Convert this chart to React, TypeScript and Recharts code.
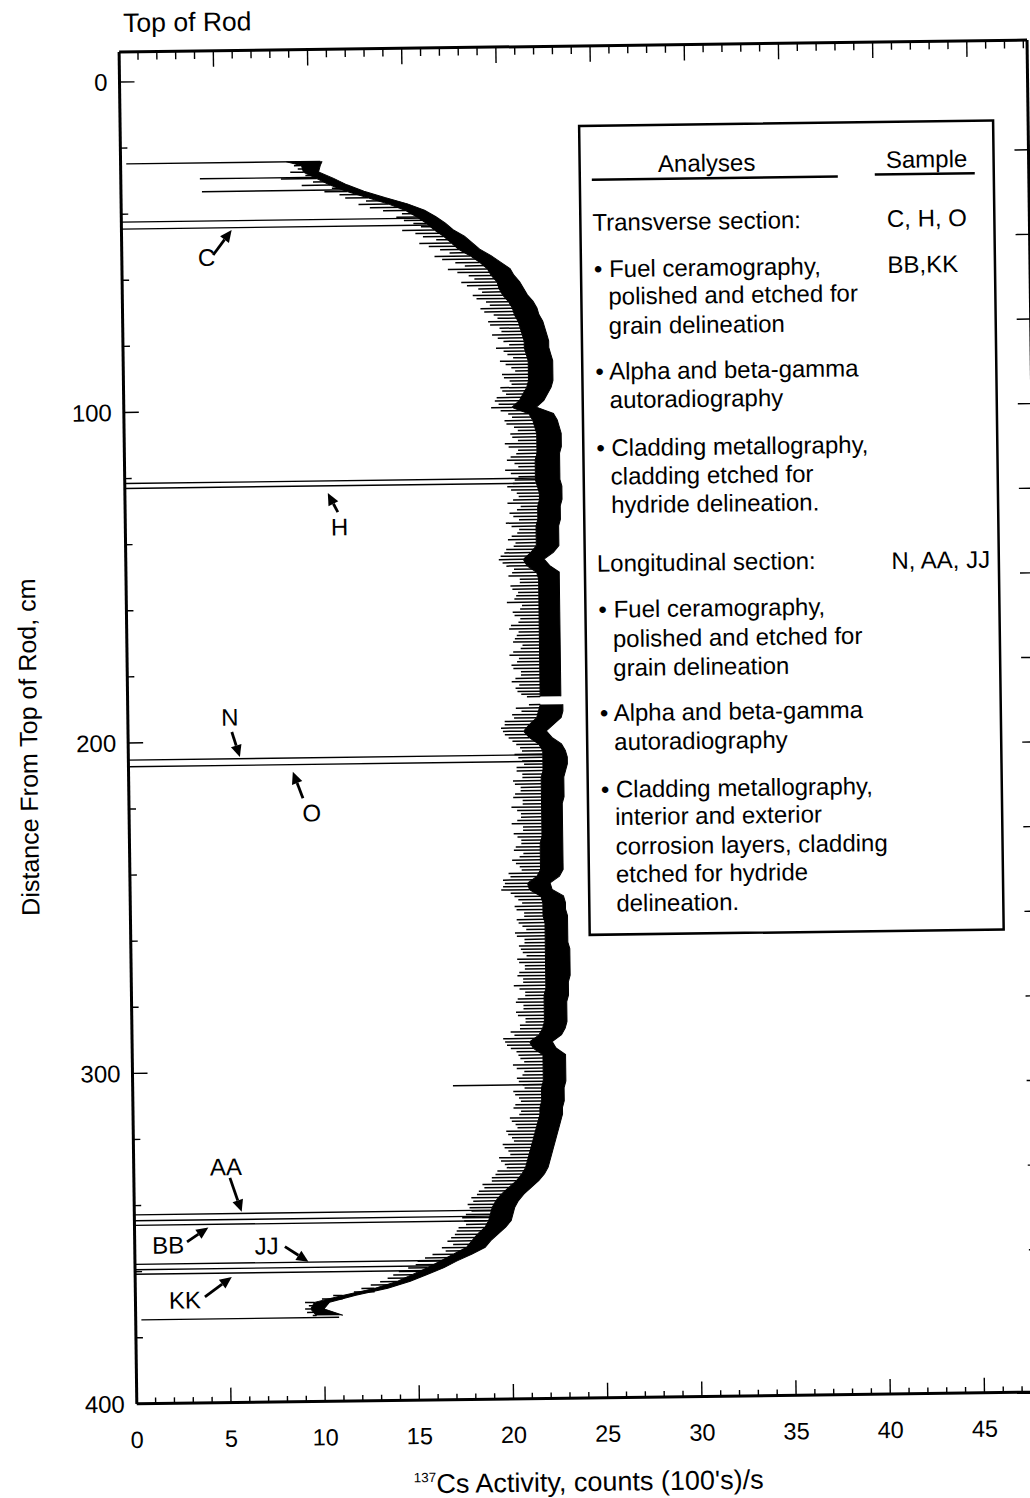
import React from 'react';
import { ComposedChart, Area, XAxis, YAxis, ReferenceLine, ReferenceDot } from 'recharts';

const FONT = '"Liberation Sans", Arial, Helvetica, sans-serif';
const W = 1060;
const H = 1498;

// distance from top of rod (cm) where the scan was read
const CM = [
  24.8,
  26, 28, 30, 32, 34, 36, 38, 40, 42, 44,
  46, 48, 50, 52, 54, 56, 58, 60, 62, 64,
  66, 68, 70, 72, 74, 76, 78, 80, 82, 84,
  86, 88, 90, 92, 94, 96, 98, 100, 102, 104,
  106, 108, 110, 112, 114, 116, 118, 120, 122, 124,
  126, 128, 130, 132, 134, 136, 138, 140, 142, 144,
  146, 148, 150, 152, 154, 156, 158, 160, 162, 164,
  166, 168, 170, 172, 174, 176, 178, 180, 182, 184,
  186, 187.6, 188.8,
  190, 192, 194, 196, 198, 200, 202, 204, 206, 208,
  210, 212, 214, 216, 218, 220, 222, 224, 226, 228,
  230, 232, 234, 236, 238, 240, 242, 244, 246, 248,
  250, 252, 254, 256, 258, 260, 262, 264, 266, 268,
  270, 272, 274, 276, 278, 280, 282, 284, 286, 288,
  290, 292, 294, 296, 298, 300, 302, 304, 306, 308,
  310, 312, 314, 316, 318, 320, 322, 324, 326, 328,
  330, 332, 334, 336, 338, 340, 342, 344, 346, 348,
  350, 352, 354, 356, 358, 360, 362, 364, 366, 368,
  370, 372, 374,
];

// outer (right) edge of the activity trace, counts (100's)/s
const OUTER = [
  10.7,
  10.6, 10.5, 11.3, 12.0, 12.9, 14.0, 15.2, 16.1, 16.7, 17.2,
  17.6, 18.2, 18.6, 19.0, 19.6, 20.1, 20.6, 20.8, 21.1, 21.3,
  21.5, 21.8, 22.0, 22.1, 22.3, 22.4, 22.5, 22.6, 22.6, 22.7,
  22.8, 22.8, 22.8, 22.8, 22.7, 22.5, 22.3, 21.9, 22.8, 23.0,
  23.1, 23.2, 23.2, 23.2, 23.1, 23.1, 23.1, 23.1, 23.1, 23.2,
  23.2, 23.2, 23.1, 23.1, 23.1, 23.0, 23.0, 23.0, 23.0, 22.7,
  22.2, 22.5, 23.0, 23.0, 23.0, 23.0, 23.0, 23.0, 23.0, 23.0,
  23.0, 23.0, 23.0, 23.0, 23.0, 23.0, 23.0, 23.0, 23.0, 23.0,
  23.0, 23.0, null,
  23.1, 23.1, 23.0, 22.6, 22.2, 22.5, 23.0, 23.2, 23.3, 23.3,
  23.2, 23.1, 23.1, 23.1, 23.1, 23.0, 23.0, 23.0, 23.0, 23.0,
  23.0, 23.0, 23.0, 23.0, 23.0, 23.0, 22.8, 22.3, 22.4, 23.0,
  23.1, 23.1, 23.2, 23.2, 23.2, 23.2, 23.2, 23.3, 23.3, 23.3,
  23.3, 23.3, 23.2, 23.2, 23.2, 23.1, 23.1, 23.1, 23.1, 23.0,
  22.8, 22.3, 22.5, 23.0, 23.0, 23.0, 23.0, 23.0, 22.9, 22.9,
  22.9, 22.8, 22.8, 22.7, 22.6, 22.5, 22.4, 22.3, 22.2, 22.1,
  22.0, 21.8, 21.5, 21.1, 20.7, 20.4, 20.2, 20.1, 20.0, 19.7,
  19.3, 18.9, 18.6, 17.9, 17.1, 16.4, 15.5, 14.6, 13.4, 11.7,
  10.3, 10.0, 11.0,
];

// inner (left) edge of the solid black band
const INNER = [
  8.8,
  9.6, 9.7, 10.4, 11.1, 12.0, 13.1, 14.2, 15.1, 15.7, 16.2,
  16.6, 17.1, 17.5, 17.9, 18.5, 19.0, 19.4, 19.6, 19.9, 20.0,
  20.2, 20.5, 20.7, 20.8, 21.0, 21.1, 21.2, 21.3, 21.3, 21.4,
  21.5, 21.5, 21.5, 21.5, 21.4, 21.2, 21.0, 20.6, 21.5, 21.7,
  21.8, 21.9, 21.9, 21.9, 21.9, 21.8, 21.8, 21.8, 21.8, 21.9,
  22.0, 22.0, 21.9, 21.9, 21.9, 21.8, 21.8, 21.8, 21.8, 21.5,
  21.1, 21.3, 21.8, 21.9, 21.9, 21.9, 21.9, 21.9, 21.9, 21.9,
  21.9, 21.9, 21.9, 21.9, 21.9, 21.9, 21.9, 21.9, 21.9, 21.9,
  21.9, 21.9, null,
  21.9, 21.8, 21.7, 21.3, 21.0, 21.3, 21.8, 22.0, 22.0, 22.0,
  22.0, 21.9, 21.9, 21.9, 21.9, 21.9, 21.9, 21.9, 21.9, 21.9,
  21.9, 21.8, 21.8, 21.8, 21.8, 21.8, 21.6, 21.1, 21.2, 21.8,
  21.9, 21.9, 21.9, 22.0, 22.0, 22.0, 22.0, 22.0, 22.0, 22.0,
  22.0, 22.0, 22.0, 22.0, 21.9, 21.9, 21.9, 21.9, 21.9, 21.8,
  21.6, 21.1, 21.3, 21.8, 21.8, 21.8, 21.8, 21.8, 21.7, 21.7,
  21.7, 21.6, 21.6, 21.5, 21.4, 21.3, 21.2, 21.1, 21.0, 20.9,
  20.8, 20.6, 20.3, 19.9, 19.5, 19.2, 19.0, 18.9, 18.8, 18.6,
  18.2, 17.9, 17.6, 16.9, 16.2, 15.5, 14.7, 13.9, 12.7, 11.0,
  9.5, 9.3, 9.6,
];

// lowest value of the counting noise at each read position
const SPIKE = [
  8.8,
  9.2, 9.0, 8.5, 9.6, 10.8, 11.9, 12.6, 13.9, 14.6, 15.5,
  14.9, 16.0, 15.8, 16.9, 16.6, 17.7, 17.3, 18.4, 18.0, 18.9,
  18.6, 19.3, 19.0, 19.7, 19.4, 20.0, 19.6, 20.2, 19.8, 20.4,
  20.0, 20.6, 20.1, 20.5, 20.0, 20.3, 19.7, 19.5, 20.4, 20.2,
  20.7, 20.5, 20.9, 20.4, 20.8, 20.3, 20.9, 20.5, 20.7, 20.3,
  20.8, 20.6, 21.0, 20.4, 20.9, 20.5, 20.8, 20.3, 20.6, 20.1,
  19.8, 20.2, 20.5, 20.9, 20.4, 20.8, 20.6, 21.0, 20.5, 20.9,
  20.4, 20.8, 20.6, 21.0, 20.5, 20.8, 20.4, 20.9, 20.6, 20.8,
  20.7, 21.2, null,
  21.3, 20.9, 20.5, 20.0, 19.9, 20.2, 20.6, 20.9, 20.7, 21.0,
  20.6, 20.9, 20.5, 20.8, 20.4, 20.9, 20.6, 20.8, 20.3, 20.9,
  20.6, 20.8, 20.4, 20.7, 20.5, 20.8, 20.2, 19.9, 19.7, 20.4,
  20.8, 20.5, 20.9, 20.6, 21.0, 20.5, 20.9, 20.7, 21.0, 20.6,
  20.9, 20.5, 20.8, 20.6, 20.9, 20.4, 20.8, 20.5, 20.9, 20.6,
  20.3, 19.8, 20.1, 20.5, 20.8, 20.4, 20.7, 20.5, 20.8, 20.3,
  20.6, 20.2, 20.5, 20.1, 20.4, 19.9, 20.2, 19.7, 20.0, 19.5,
  19.8, 19.2, 19.0, 18.6, 18.2, 18.0, 17.8, 17.6, 17.5, 17.2,
  17.0, 16.6, 16.3, 15.8, 15.0, 14.5, 13.7, 13.0, 12.0, 10.5,
  9.0, 9.0, 9.4,
];

// lowest value of the noise half way between two read positions
const SPIKE_MID = [
  9.3, 9.4, 9.8, 10.2, 11.2, 11.6, 13.0, 13.2, 14.9, 15.0,
  15.9, 15.6, 16.7, 16.3, 17.4, 17.0, 18.2, 17.8, 18.7, 18.3,
  19.1, 18.8, 19.5, 19.2, 19.9, 19.5, 20.1, 19.9, 20.5, 20.2,
  20.7, 20.3, 20.8, 20.2, 20.6, 20.1, 19.8, 19.9, 20.0, 20.6,
  20.3, 20.9, 20.6, 20.2, 20.9, 20.5, 20.7, 20.2, 20.9, 20.6,
  20.5, 20.9, 20.3, 20.8, 20.6, 20.2, 20.9, 20.5, 20.7, 20.2,
  19.9, 20.0, 20.6, 20.3, 20.9, 20.5, 20.7, 20.2, 20.9, 20.6,
  20.8, 20.3, 20.7, 20.5, 20.9, 20.3, 20.7, 20.5, 20.9, 20.4,
  20.6, 20.9, null, null,
  20.6, 20.4, 20.0, 19.8, 20.0, 20.4, 20.8, 20.5, 20.9, 20.6,
  20.9, 20.4, 20.8, 20.5, 20.9, 20.3, 20.8, 20.6, 20.9, 20.4,
  20.8, 20.5, 20.9, 20.3, 20.7, 20.1, 19.8, 19.8, 20.2, 20.6,
  20.4, 20.9, 20.5, 20.8, 20.4, 20.9, 20.6, 20.8, 20.5, 20.9,
  20.6, 20.8, 20.3, 20.9, 20.5, 20.8, 20.4, 20.9, 20.6, 20.1,
  19.7, 19.9, 20.4, 20.6, 20.2, 20.8, 20.4, 20.7, 20.2, 20.5,
  20.3, 20.6, 20.0, 20.3, 19.8, 20.1, 19.6, 19.9, 19.4, 19.7,
  19.3, 19.0, 18.5, 18.3, 17.9, 17.7, 17.9, 17.4, 17.6, 17.1,
  16.8, 16.9, 16.5, 15.4, 14.9, 14.0, 13.4, 12.5, 11.6, 9.9,
  9.2, 9.1,
];

// sample cuts and deep drops of the signal
const CUT_CM = [24.8, 29.6, 33.5, 42.4, 44.5, 121.5, 123.0, 205.2, 207.2, 305.0, 342.8, 344.6, 346.0, 357.8, 359.4, 360.8, 374.6];
const CUT_FROM = [0.3, 4.2, 4.3, 0, 0, 0, 0, 0, 0, 17.0, 0, 0, 0, 0, 0, 0, 0.3];
const CUT_TO = [10.6, 10.7, 12.2, 16.2, 16.6, 21.8, 21.8, 22.0, 22.0, 21.8, 19.1, 18.9, 18.7, 16.9, 16.2, 15.5, 10.8];

// sample labels with arrows
const SAMPLE_LABELS = ['C', 'H', 'N', 'O', 'AA', 'BB', 'JJ', 'KK'];
const LABEL_AT = [[4.5, 53.4], [11.37, 135.5], [5.42, 192.6], [9.7, 221.9], [4.89, 328.6], [1.78, 352.1], [7.0, 352.7], [2.63, 368.8]];
const ARROW_FROM = [[4.85, 52.7], [11.29, 131], [5.51, 197.1], [9.24, 217.4], [5.1, 332.0], [2.78, 351.2], [7.97, 353.0], [3.69, 367.9]];
const ARROW_TO = [[5.85, 45.2], [10.77, 125.2], [5.92, 204.7], [8.72, 209.4], [5.7, 342.3], [3.92, 346.9], [9.21, 357.7], [5.13, 362.0]];

const X_TICKS = Array.from({ length: 49 }, (_, i) => i);
const X_LABELS = [0, 5, 10, 15, 20, 25, 30, 35, 40, 45];
const Y_TICKS = [0, 20, 40, 60, 80, 100, 120, 140, 160, 180, 200, 220, 240, 260, 280, 300, 320, 340, 360, 380, 400];
const Y_LABELS = [0, 100, 200, 300, 400];
const RIGHT_TICKS = [24.1, 49.7, 75.3, 100.9, 126.5, 152.1, 177.7, 203.3, 228.9, 254.5, 280.1, 305.7, 331.3, 356.9, 382.5];

const rows = CM.map((cm, i) => ({ cm, outer: OUTER[i], inner: INNER[i], spike: SPIKE[i] }));

// noise hairs: one at each read position, one half way to the next
const hairs: { cm: number; from: number; to: number }[] = [];
rows.forEach((r, i) => {
  if (r.spike != null && r.inner != null && r.spike < r.inner) hairs.push({ cm: r.cm, from: r.spike, to: r.inner });
  const nx = rows[i + 1];
  const m = SPIKE_MID[i];
  if (nx && m != null && r.inner != null && nx.inner != null) {
    hairs.push({ cm: (r.cm + nx.cm) / 2, from: m, to: Math.max(r.inner, nx.inner) });
  }
});

const BottomTick = (p: any) => {
  const v = p.payload.value;
  const major = X_LABELS.includes(v);
  return (
    <g>
      <line x1={p.x} x2={p.x} y1={p.y} y2={p.y - (major ? 15 : 6)} stroke="#000" strokeWidth={1.4} />
      {major && (
        <text x={p.x} y={p.y + 44} textAnchor="middle" fontSize={23.5} fontFamily={FONT} fill="#000">
          {v}
        </text>
      )}
    </g>
  );
};

const TopTick = (p: any) => {
  const major = X_LABELS.includes(p.payload.value);
  return <line x1={p.x} x2={p.x} y1={p.y} y2={p.y + (major ? 16 : 8)} stroke="#000" strokeWidth={1.4} />;
};

const LeftTick = (p: any) => {
  const v = p.payload.value;
  const major = Y_LABELS.includes(v);
  return (
    <g>
      <line x1={p.x} x2={p.x + (major ? 15 : 7)} y1={p.y} y2={p.y} stroke="#000" strokeWidth={1.4} />
      {major && (
        <text x={p.x - 12} y={p.y + 8.5} textAnchor="end" fontSize={24} fontFamily={FONT} fill="#000">
          {v}
        </text>
      )}
    </g>
  );
};

const RightTick = (p: any) => <line x1={p.x} x2={p.x - 14} y1={p.y} y2={p.y} stroke="#000" strokeWidth={1.4} />;

const Arrow = (p: any) => {
  const { x1, y1, x2, y2 } = p;
  const a = Math.atan2(y2 - y1, x2 - x1);
  const len = 12;
  const w = 5.5;
  const bx = x2 - len * Math.cos(a);
  const by = y2 - len * Math.sin(a);
  const pts = `${x2},${y2} ${bx - w * Math.sin(a)},${by + w * Math.cos(a)} ${bx + w * Math.sin(a)},${by - w * Math.cos(a)}`;
  return (
    <g>
      <line x1={x1} y1={y1} x2={bx} y2={by} stroke="#000" strokeWidth={2.8} />
      <polygon points={pts} fill="#000" />
    </g>
  );
};

const LEGEND_LINES: [string, number, number][] = [
  ['Transverse section:', 599, 231],
  ['\u2022 Fuel ceramography,', 600, 277.5],
  ['polished and etched for', 614, 305],
  ['grain delineation', 614, 334.5],
  ['\u2022 Alpha and beta-gamma', 600, 380],
  ['autoradiography', 614, 408.5],
  ['\u2022 Cladding metallography,', 600, 456.5],
  ['cladding etched for', 614, 485],
  ['hydride delineation.', 614, 513.5],
  ['Longitudinal section:', 599, 572],
  ['\u2022 Fuel ceramography,', 600, 618],
  ['polished and etched for', 614, 647.5],
  ['grain delineation', 614, 676.5],
  ['\u2022 Alpha and beta-gamma', 600, 721.5],
  ['autoradiography', 614, 750.5],
  ['\u2022 Cladding metallography,', 600, 798],
  ['interior and exterior', 614, 825.5],
  ['corrosion layers, cladding', 614, 855],
  ['etched for hydride', 614, 883],
  ['delineation.', 614, 912],
];

const SAMPLE_LINES: [string, number][] = [
  ['C, H, O', 231],
  ['BB,KK', 277],
  ['N, AA, JJ', 573],
];

export default function App() {
  return (
    <div style={{ position: 'fixed', left: 0, top: 0, width: 1030, height: 1498, overflow: 'hidden', background: '#fff' }}>
      <div
        style={{
          position: 'absolute',
          left: 0,
          top: 0,
          width: W,
          height: H,
          transform: 'rotate(-0.75deg)',
          transformOrigin: '580px 728px',
          fontFamily: FONT,
        }}
      >
        <ComposedChart width={W} height={H} data={rows} layout="vertical" margin={{ top: 45, right: 23, bottom: 60, left: 68 }}>
          <XAxis
            type="number"
            domain={[0, 48.2]}
            allowDataOverflow
            ticks={X_TICKS}
            interval={0}
            tickSize={0}
            tickMargin={0}
            tickLine={false}
            height={40}
            axisLine={{ stroke: '#000', strokeWidth: 3 }}
            tick={(p: any) => <BottomTick {...p} />}
          />
          <XAxis
            xAxisId="top"
            orientation="top"
            type="number"
            domain={[0, 48.2]}
            allowDataOverflow
            ticks={X_TICKS}
            interval={0}
            tickSize={0}
            tickMargin={0}
            tickLine={false}
            height={1}
            axisLine={{ stroke: '#000', strokeWidth: 3 }}
            tick={(p: any) => <TopTick {...p} />}
          />
          <YAxis
            type="number"
            dataKey="cm"
            domain={[-9.1, 400]}
            allowDataOverflow
            ticks={Y_TICKS}
            interval={0}
            tickSize={0}
            tickMargin={0}
            tickLine={false}
            width={60}
            axisLine={{ stroke: '#000', strokeWidth: 3 }}
            tick={(p: any) => <LeftTick {...p} />}
          />
          <YAxis
            yAxisId="right"
            orientation="right"
            type="number"
            dataKey="cm"
            domain={[-9.1, 400]}
            allowDataOverflow
            ticks={RIGHT_TICKS}
            interval={0}
            tickSize={0}
            tickMargin={0}
            tickLine={false}
            width={1}
            axisLine={{ stroke: '#000', strokeWidth: 3 }}
            tick={(p: any) => <RightTick {...p} />}
          />
          <Area
            type="linear"
            dataKey={(r: any) => (r.outer == null ? [null, null] : [r.inner, r.outer])}
            stroke="#000"
            strokeWidth={1}
            fill="#000"
            fillOpacity={1}
            dot={false}
            activeDot={false}
            connectNulls={false}
            isAnimationActive={false}
          />
          {hairs.map((h, i) => (
            <ReferenceLine
              key={`s${i}`}
              segment={[{ x: h.from, y: h.cm }, { x: h.to, y: h.cm }]}
              stroke="#000"
              strokeWidth={1.5}
              ifOverflow="visible"
            />
          ))}
          {CUT_CM.map((cm, i) => (
            <ReferenceLine
              key={`c${i}`}
              segment={[{ x: CUT_FROM[i], y: cm }, { x: CUT_TO[i], y: cm }]}
              stroke="#000"
              strokeWidth={1.4}
              ifOverflow="visible"
            />
          ))}
          {SAMPLE_LABELS.map((lab, i) => (
            <ReferenceLine
              key={`a${lab}`}
              segment={[{ x: ARROW_FROM[i][0], y: ARROW_FROM[i][1] }, { x: ARROW_TO[i][0], y: ARROW_TO[i][1] }]}
              ifOverflow="visible"
              shape={(p: any) => <Arrow {...p} />}
            />
          ))}
          {SAMPLE_LABELS.map((lab, i) => (
            <ReferenceDot
              key={`l${lab}`}
              x={LABEL_AT[i][0]}
              y={LABEL_AT[i][1]}
              r={0}
              ifOverflow="visible"
              shape={(p: any) => (
                <text x={p.cx} y={p.cy} textAnchor="middle" dominantBaseline="central" fontSize={24} fontFamily={FONT} fill="#000">
                  {lab}
                </text>
              )}
            />
          ))}
        </ComposedChart>
        <svg width={W} height={H} style={{ position: 'absolute', left: 0, top: 0, pointerEvents: 'none' }} fontFamily={FONT} fill="#000">
          <text x={132.5} y={26} fontSize={26.5}>Top of Rod</text>
          <text x={28} y={740} fontSize={25} textAnchor="middle" dominantBaseline="central" transform="rotate(-90 28 740)">
            Distance From Top of Rod, cm
          </text>
          <text x={404} y={1491} fontSize={27}>
            <tspan fontSize={13.5} dy={-11}>137</tspan>
            <tspan dy={11}>Cs Activity, counts (100's)/s</tspan>
          </text>
          <rect x={587} y={126} width={414} height={809} fill="#fff" stroke="#000" strokeWidth={2.5} />
          <text x={714} y={173} fontSize={24} textAnchor="middle">Analyses</text>
          <line x1={599} x2={845} y1={180} y2={180} stroke="#000" strokeWidth={2.5} />
          <text x={934} y={172} fontSize={24} textAnchor="middle">Sample</text>
          <line x1={882} x2={982} y1={178.5} y2={178.5} stroke="#000" strokeWidth={2.5} />
          {LEGEND_LINES.map(([t, x, y], i) => (
            <text key={i} x={x} y={y} fontSize={24}>{t}</text>
          ))}
          {SAMPLE_LINES.map(([t, y], i) => (
            <text key={i} x={893.5} y={y} fontSize={24}>{t}</text>
          ))}
        </svg>
      </div>
    </div>
  );
}
